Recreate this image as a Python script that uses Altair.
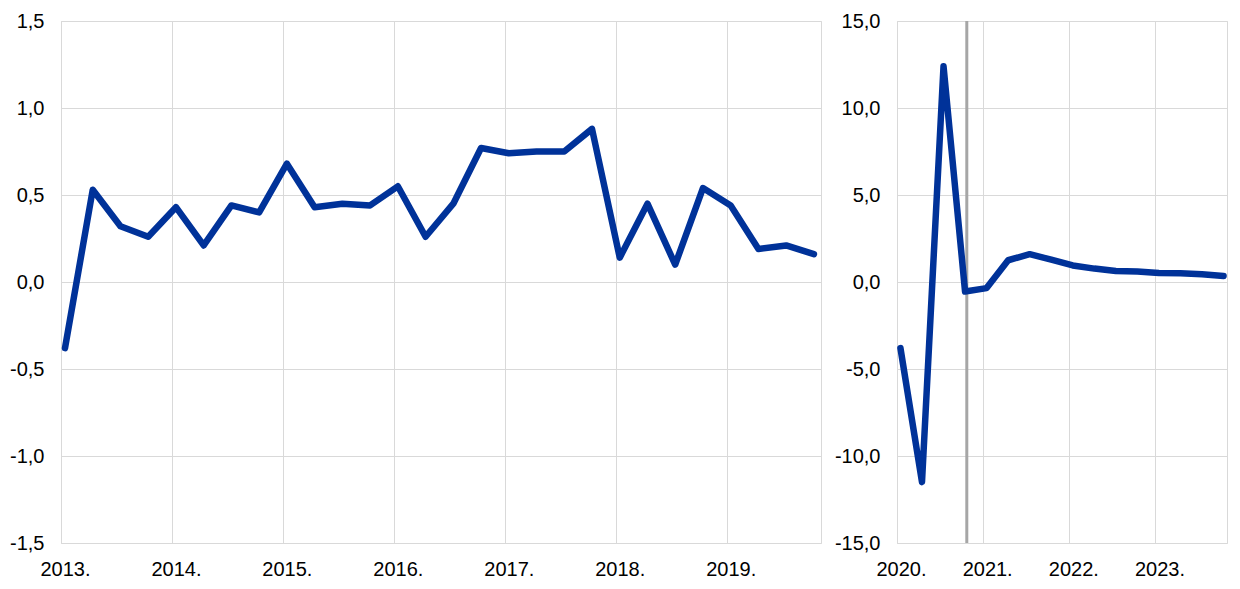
import altair as alt
import pandas as pd

# ---- data -------------------------------------------------------------
left_years = [2013, 2014, 2015, 2016, 2017, 2018, 2019]
left_quarters = [f"{y}Q{q}" for y in left_years for q in (1, 2, 3, 4)]
left_values = [-0.38, 0.53, 0.32, 0.26, 0.43, 0.21, 0.44, 0.40,
               0.68, 0.43, 0.45, 0.44, 0.55, 0.26, 0.45, 0.77,
               0.74, 0.75, 0.75, 0.88, 0.14, 0.45, 0.10, 0.54,
               0.44, 0.19, 0.21, 0.16]

right_years = [2020, 2021, 2022, 2023]
right_quarters = [f"{y}Q{q}" for y in right_years for q in (1, 2, 3, 4)]
right_values = [-3.8, -11.5, 12.4, -0.55, -0.35, 1.25, 1.6, 1.28,
                0.95, 0.77, 0.63, 0.60, 0.52, 0.50, 0.44, 0.35]

projection_start = [2020.81]

left_yticks = [-1.5, -1.0, -0.5, 0.0, 0.5, 1.0, 1.5]
right_yticks = [-15, -10, -5, 0, 5, 10, 15]

# ---- styling ----------------------------------------------------------
BLUE = "#003299"
GRID = "#d9d9d9"
FONT = "Liberation Sans"


def qpos(label, off):
    y, q = label.split("Q")
    return int(y) + (int(q) - 1) / 4 + off


left_df = pd.DataFrame({"t": [qpos(l, 0.036) for l in left_quarters], "v": left_values})
right_df = pd.DataFrame({"t": [qpos(l, 0.04) for l in right_quarters], "v": right_values})
rule_df = pd.DataFrame({"t": projection_start})

yfmt = "(datum.value < 0 ? '-' : '') + replace(format(abs(datum.value), '.1f'), '.', ',')"
xfmt = "format(datum.value, 'd') + '.'"


def x_axis(values, offset):
    return alt.Axis(values=values, labelExpr=xfmt, ticks=False, domain=False,
                    grid=True, gridColor=GRID, gridWidth=1, labelFont=FONT,
                    labelFontSize=20, labelColor="#000000", labelPadding=16,
                    labelOffset=offset, labelFlush=False, labelOverlap=False,
                    title=None)


def y_axis(values, extent):
    return alt.Axis(values=values, labelExpr=yfmt, ticks=False, domain=False,
                    grid=True, gridColor=GRID, gridWidth=1, labelFont=FONT,
                    labelFontSize=20, labelColor="#000000", labelPadding=17,
                    minExtent=extent, maxExtent=extent, title=None)


line_style = dict(color=BLUE, strokeWidth=6.5, strokeCap="round", strokeJoin="round")

left = alt.Chart(left_df).mark_line(**line_style).encode(
    x=alt.X("t:Q", scale=alt.Scale(domain=[2013, 2019.85], nice=False, zero=False),
            axis=x_axis(left_years, 4)),
    y=alt.Y("v:Q", scale=alt.Scale(domain=[-1.5, 1.5], nice=False),
            axis=y_axis(left_yticks, 52)),
).properties(width=760, height=522)

xr = alt.X("t:Q", scale=alt.Scale(domain=[2020, 2023.83], nice=False, zero=False),
           axis=x_axis(right_years, 4))

right_rule = alt.Chart(rule_df).mark_rule(color="#a6a6a6", strokeWidth=3).encode(x=xr)
right_line = alt.Chart(right_df).mark_line(**line_style).encode(
    x=xr,
    y=alt.Y("v:Q", scale=alt.Scale(domain=[-15, 15], nice=False),
            axis=y_axis(right_yticks, 67)),
)
right = alt.layer(right_rule, right_line).properties(width=330, height=522)

chart = alt.hconcat(left, right, spacing=7).properties(
    padding={"left": 0, "top": 2, "right": 0, "bottom": 0},
    background="white",
).configure_view(stroke=GRID, strokeWidth=1)

chart.save("out.html", embed_options={"renderer": "svg", "actions": False})
